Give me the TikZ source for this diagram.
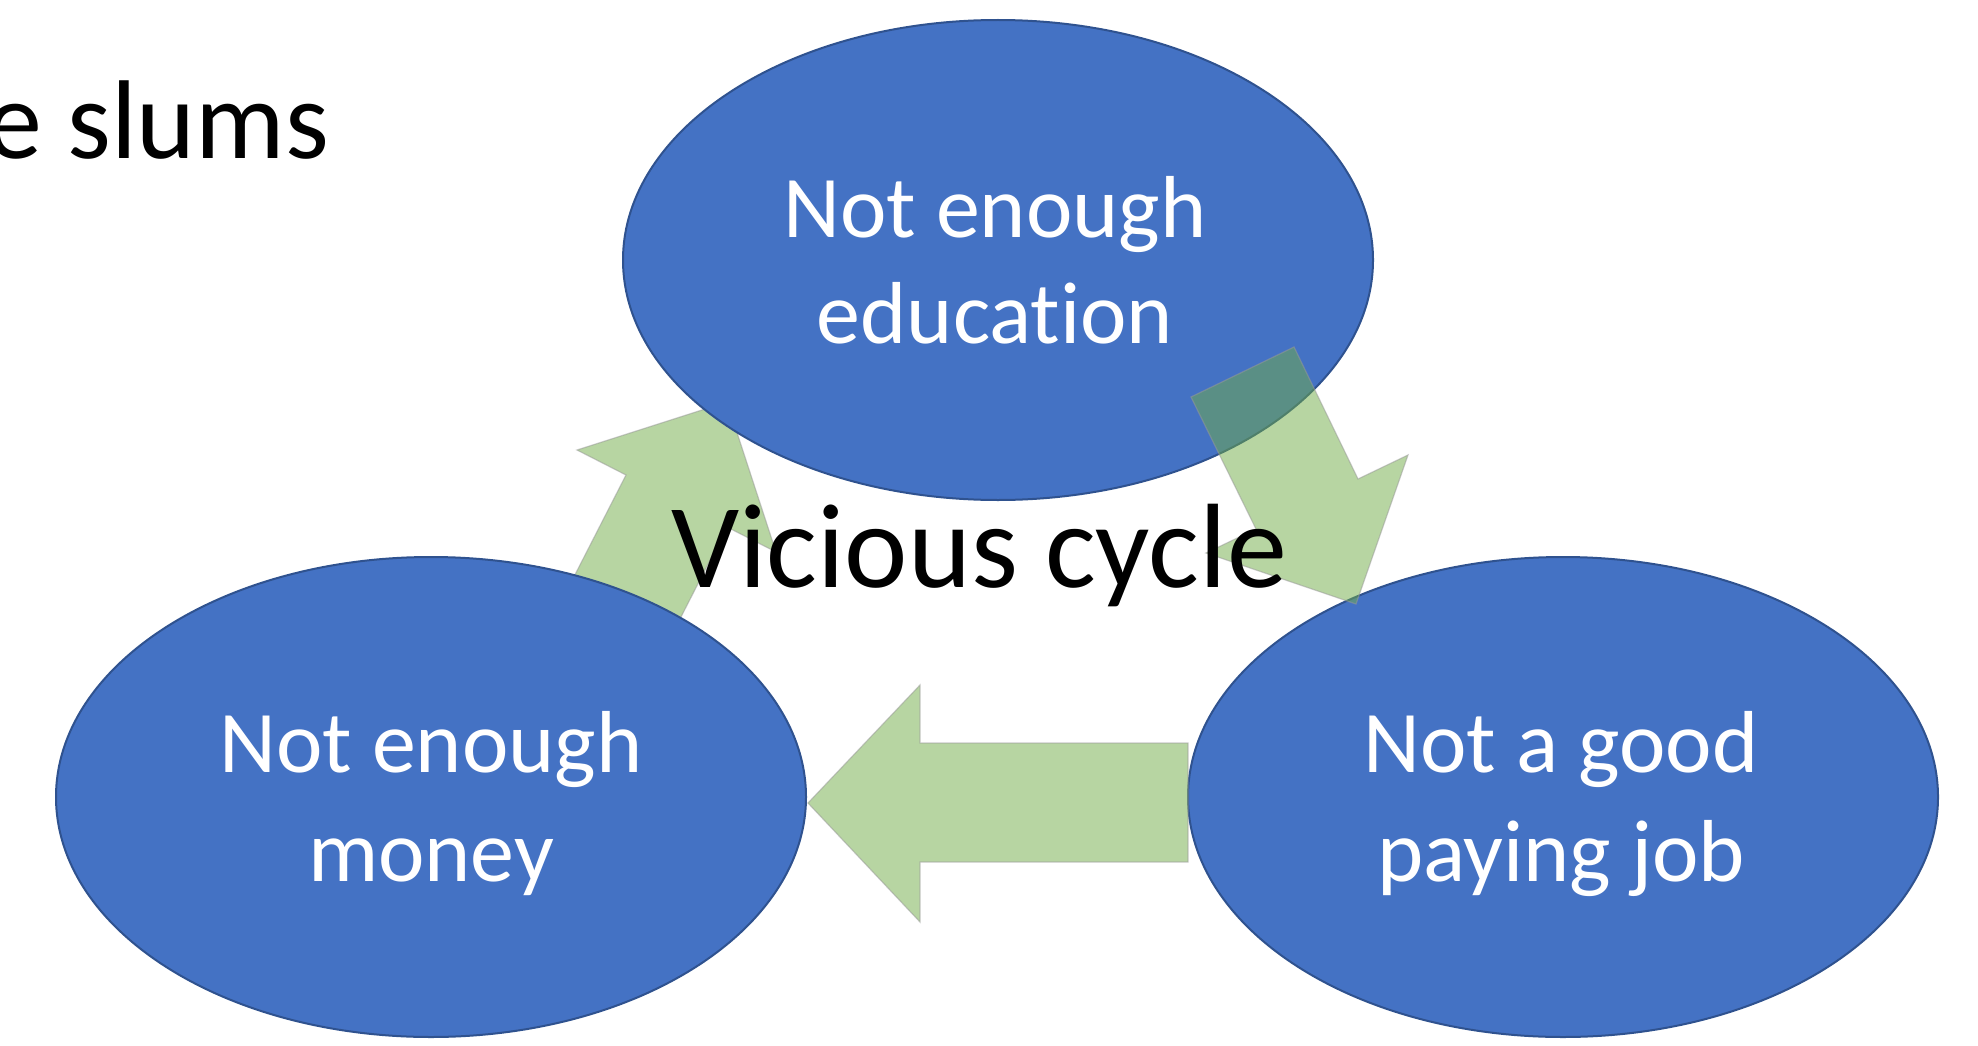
\documentclass[tikz,border=0pt]{standalone}
\usepackage{fontspec}
\setmainfont[Ligatures=NoCommon]{Carlito}
\usetikzlibrary{shapes.geometric}
\definecolor{ellfill}{HTML}{4472C4}
\definecolor{elldraw}{HTML}{2F528F}
\definecolor{arrgreen}{HTML}{70AD47}
\tikzset{
  ellbox/.style={ellipse, fill=ellfill, draw=elldraw, line width=2pt, minimum width=750pt, minimum height=480pt, inner sep=0pt},
  elltext/.style={text=white, inner sep=0pt, anchor=base, font=\fontsize{88}{106}\selectfont},
  blockarrow/.style={fill=arrgreen, fill opacity=0.5, draw=black!40, draw opacity=0.5, line width=1.2pt, line join=miter},
}
\begin{document}
\begin{tikzpicture}[x=1pt,y=-1pt]
\clip (0,0) rectangle (1978,1046);
\fill[white] (0,0) rectangle (1978,1046);
% title fragment
\node[inner sep=0pt, anchor=base west, font=\fontsize{112}{134}\selectfont] (title) at (-14,158) {e slums};
% upper-left arrow (beneath ellipses)
\path[blockarrow] (727,402) -- (776,552) -- (727,527) -- (660,658) -- (559,606) -- (626,475) -- (577,450) -- cycle;
% ellipses
\node[ellbox] (edu) at (998,260) {};
\node[ellbox] (money) at (431,797) {};
\node[ellbox] (job) at (1563,797) {};
% ellipse texts
\node[elltext] (edu1) at (995,237) {Not enough};
\node[elltext] (edu2) at (995,343) {education};
\node[elltext] (money1) at (431,772) {Not enough};
\node[elltext] (money2) at (431,881) {money};
\node[elltext] (job1) at (1561,772) {Not a good};
\node[elltext] (job2) at (1561,881) {paying job};
% top-right arrow (over ellipses)
\path[blockarrow] (1356,604) -- (1206,553) -- (1256,529) -- (1191,397) -- (1294,347) -- (1358,479) -- (1408,455) -- cycle;
% bottom arrow
\path[blockarrow] (808,803) -- (920,685) -- (920,743) -- (1188,743) -- (1188,862) -- (920,862) -- (920,922) -- cycle;
% centre label
\node[inner sep=0pt, anchor=base, font=\fontsize{120}{144}\selectfont] (vc) at (979,587) {Vicious cycle};
\end{tikzpicture}
\end{document}
